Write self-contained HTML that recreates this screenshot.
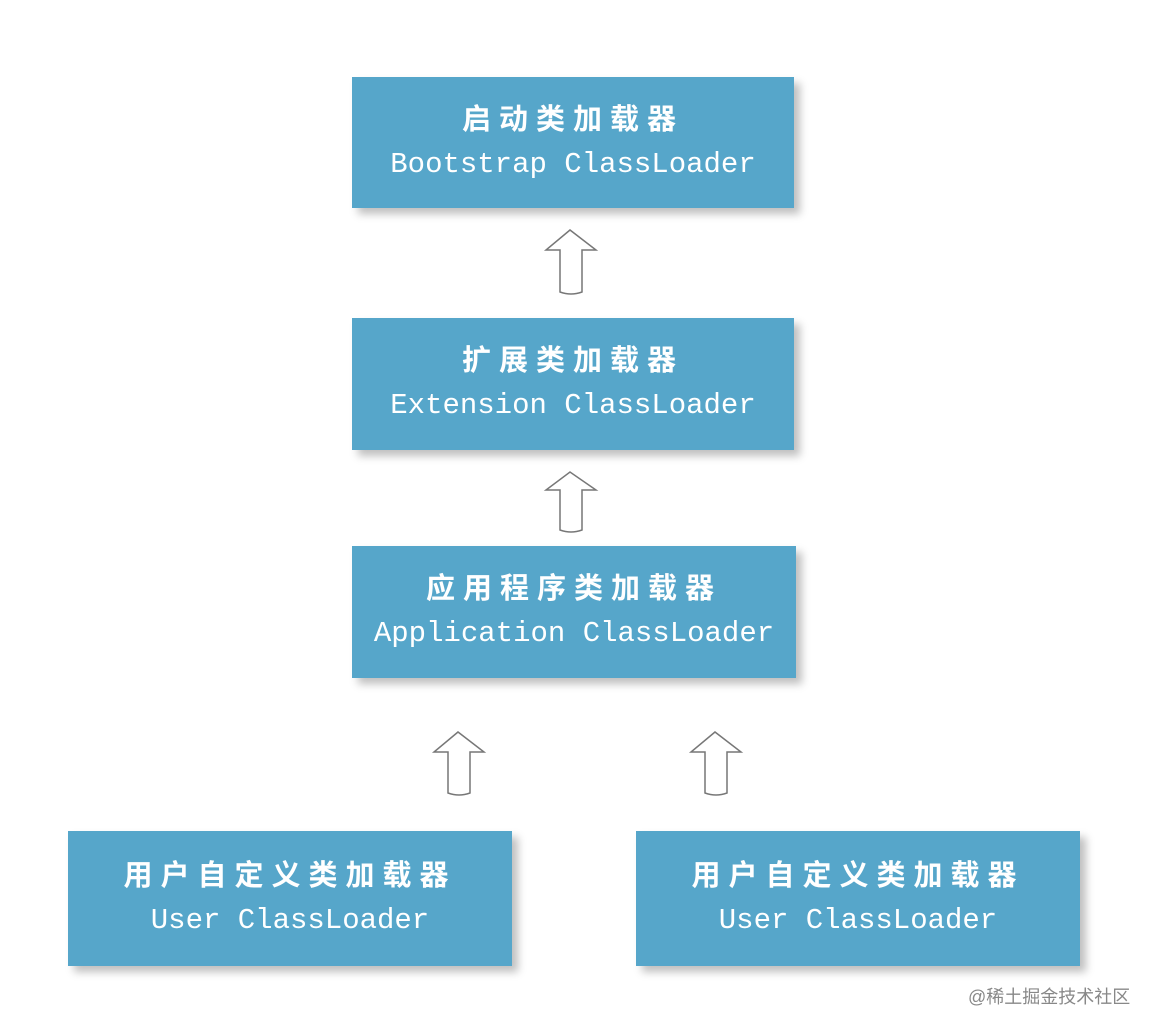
<!DOCTYPE html>
<html><head><meta charset="utf-8"><style>
body{margin:0;background:#fff;width:1158px;height:1032px;position:relative;overflow:hidden;font-family:"Liberation Sans","Noto Sans CJK SC",sans-serif}
.b{position:absolute;background:#56a6ca;color:#fff;text-align:center;box-shadow:6px 6px 8px rgba(0,0,0,0.25);display:flex;flex-direction:column;justify-content:center;font-family:"Liberation Mono","Noto Sans CJK SC",monospace}
.b .c{font-size:29px;letter-spacing:8px;line-height:43px;font-weight:bold}
.b .e{font-size:29px;line-height:43px}
svg{position:absolute;left:0;top:0}
.w{position:absolute;left:968px;top:983px;font-size:18px;color:#888}
</style></head><body>
<div class="b" style="left:352px;top:77px;width:442px;height:131px"><div class="c">启动类加载器</div><div class="e">Bootstrap ClassLoader</div></div>
<div class="b" style="left:352px;top:318px;width:442px;height:132px"><div class="c">扩展类加载器</div><div class="e">Extension ClassLoader</div></div>
<div class="b" style="left:352px;top:546px;width:444px;height:132px"><div class="c">应用程序类加载器</div><div class="e">Application ClassLoader</div></div>
<div class="b" style="left:68px;top:831px;width:444px;height:135px"><div class="c">用户自定义类加载器</div><div class="e">User ClassLoader</div></div>
<div class="b" style="left:636px;top:831px;width:444px;height:135px"><div class="c">用户自定义类加载器</div><div class="e">User ClassLoader</div></div>
<svg width="1158" height="1032" fill="none" stroke="#777" stroke-width="1.5">
<path d="M560 292 L560 250 L546 250 L570 230 L596 250 L582 250 L582 292 Q571 296 560 292Z"/>
<path d="M560 530 L560 490 L546 490 L570 472 L596 490 L582 490 L582 530 Q571 534 560 530Z"/>
<path d="M448 793 L448 752 L434 752 L458 732 L484 752 L470 752 L470 793 Q459 797 448 793Z"/>
<path d="M705 793 L705 752 L691 752 L715 732 L741 752 L727 752 L727 793 Q716 797 705 793Z"/>
</svg>
<div class="w">@稀土掘金技术社区</div>
</body></html>
